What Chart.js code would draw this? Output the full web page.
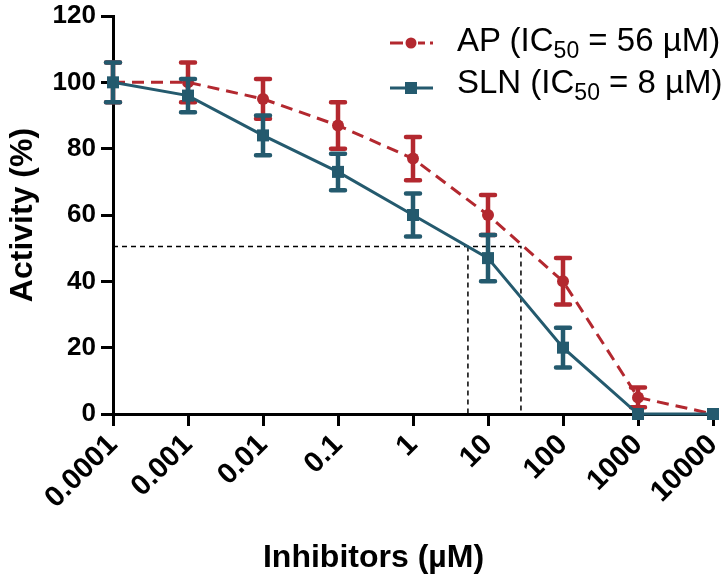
<!DOCTYPE html>
<html>
<head>
<meta charset="utf-8">
<script src="https://cdn.jsdelivr.net/npm/chart.js@4.4.1/dist/chart.umd.min.js"></script>
<style>
  html, body { margin: 0; padding: 0; background: #fff; }
  #wrap { position: relative; width: 726px; height: 582px; }
  #chart { position: absolute; left: 0; top: 0; }
  #overlay { position: absolute; left: 0; top: 0; pointer-events: none; }
  #overlay text { font-family: 'Liberation Sans', Arial, sans-serif; fill: #000; }
</style>
</head>
<body>
<div id="wrap">
  <canvas id="chart" width="726" height="582"></canvas>
  <svg id="overlay" width="726" height="582">
    <!-- legend -->
    <line x1="390" y1="43" x2="403" y2="43" stroke="#b3282f" stroke-width="3"/>
    <line x1="418" y1="43" x2="425" y2="43" stroke="#b3282f" stroke-width="3"/>
    <line x1="430" y1="43" x2="433" y2="43" stroke="#b3282f" stroke-width="3"/>
    <circle cx="411" cy="43" r="5.5" fill="#b3282f"/>
    <text x="457" y="51" font-size="33">AP (IC<tspan font-size="23" dy="7">50</tspan><tspan dy="-7"> = 56 µM)</tspan></text>
    <line x1="390" y1="88" x2="433" y2="88" stroke="#245a6e" stroke-width="3"/>
    <rect x="405" y="82" width="12" height="12" fill="#245a6e"/>
    <text x="457" y="93" font-size="33">SLN (IC<tspan font-size="23" dy="7">50</tspan><tspan dy="-7"> = 8 µM)</tspan></text>
    <!-- x axis title -->
    <text x="373.5" y="567" font-size="32" font-weight="bold" text-anchor="middle">Inhibitors (µM)</text>
  </svg>
</div>
<script>
// concentrations (µM) and their tick labels
const conc = [0.0001, 0.001, 0.01, 0.1, 1, 10, 100, 1000, 10000];
const tickLabels = ["0.0001", "0.001", "0.01", "0.1", "1", "10", "100", "1000", "10000"];

// activity (%) and SEM
const apActivity = [100, 100, 95, 87, 77, 60, 40, 5, 0];
const apError = [6, 6, 6, 7, 6.5, 6, 7, 3, 0];
const slnActivity = [100, 96, 84, 73, 60, 47, 20, 0, 0];
const slnError = [6, 5, 6, 5.5, 6.5, 7, 6, 0, 0];

// IC50 guide lines
const halfLevel = 50.5;
const slnIc50 = 5.4;
const apIc50 = 27.5;

const AP_COLOR = "#b3282f";
const SLN_COLOR = "#245a6e";

const toPoints = (ys) => conc.map((c, i) => ({ x: c, y: ys[i] }));

// draw error bars after each dataset, using the chart scales
const errorBars = {
  id: "errorBars",
  afterDatasetDraw: (chart, args) => {
    const ds = chart.data.datasets[args.index];
    if (!ds.errors) return;
    const ctx = chart.ctx;
    const xs = chart.scales.x;
    const ys = chart.scales.y;
    ctx.save();
    ctx.strokeStyle = ds.borderColor;
    ctx.lineWidth = 4.5;
    ctx.lineCap = "round";
    ds.data.forEach((p, i) => {
      const e = ds.errors[i];
      if (!e) return;
      const px = xs.getPixelForValue(p.x);
      const top = ys.getPixelForValue(p.y + e);
      const bot = ys.getPixelForValue(p.y - e);
      ctx.beginPath();
      ctx.moveTo(px, top);
      ctx.lineTo(px, bot);
      ctx.moveTo(px - 7, top);
      ctx.lineTo(px + 7, top);
      ctx.moveTo(px - 7, bot);
      ctx.lineTo(px + 7, bot);
      ctx.stroke();
    });
    ctx.restore();
  },
};

Chart.defaults.font.family = "'Liberation Sans', Arial, sans-serif";
Chart.defaults.color = "#000";

const config = {
  type: "line",
  data: {
    datasets: [
      {
        label: "SLN",
        data: toPoints(slnActivity),
        errors: slnError,
        borderColor: SLN_COLOR,
        backgroundColor: SLN_COLOR,
        borderWidth: 3,
        pointStyle: "rect",
        pointRadius: 8.5,
        pointBorderWidth: 0,
        pointBackgroundColor: SLN_COLOR,
        clip: false,
      },
      {
        label: "AP",
        data: toPoints(apActivity),
        errors: apError,
        borderColor: AP_COLOR,
        backgroundColor: AP_COLOR,
        borderWidth: 3,
        borderDash: [12, 7],
        pointStyle: "circle",
        pointRadius: 6,
        pointBorderWidth: 0,
        pointBackgroundColor: AP_COLOR,
        clip: false,
      },
      {
        label: "AP IC50",
        data: [
          { x: conc[0], y: halfLevel },
          { x: apIc50, y: halfLevel },
          { x: apIc50, y: 0 },
        ],
        borderColor: "#000",
        borderWidth: 1.5,
        borderDash: [5, 4],
        pointRadius: 0,
        clip: false,
      },
      {
        label: "SLN IC50",
        data: [
          { x: slnIc50, y: halfLevel },
          { x: slnIc50, y: 0 },
        ],
        borderColor: "#000",
        borderWidth: 1.5,
        borderDash: [5, 4],
        pointRadius: 0,
        clip: false,
      },
    ],
  },
  options: {
    responsive: false,
    animation: false,
    events: [],
    layout: { padding: { top: 16, right: 13, left: 0, bottom: 0 } },
    plugins: {
      legend: { display: false },
      tooltip: { enabled: false },
    },
    scales: {
      x: {
        type: "logarithmic",
        min: conc[0],
        max: conc[conc.length - 1],
        afterBuildTicks: (scale) => {
          scale.ticks = conc.map((v) => ({ value: v }));
        },
        afterFit: (scale) => {
          scale.height = 168;
          scale.paddingLeft = 0;
          scale.paddingRight = 0;
        },
        ticks: {
          autoSkip: false,
          maxRotation: 45,
          minRotation: 45,
          padding: 2,
          font: { size: 29, weight: "bold" },
          callback: (val, i) => tickLabels[i],
        },
        grid: {
          drawOnChartArea: false,
          drawTicks: true,
          tickLength: 12,
          tickWidth: 3,
          tickColor: "#000",
        },
        border: { display: true, color: "#000", width: 3 },
      },
      y: {
        min: 0,
        max: 120,
        afterFit: (scale) => {
          scale.width = 113;
          scale.paddingTop = 0;
          scale.paddingBottom = 0;
        },
        ticks: {
          stepSize: 20,
          padding: 5,
          font: { size: 26, weight: "bold" },
        },
        grid: {
          drawOnChartArea: false,
          drawTicks: true,
          tickLength: 12,
          tickWidth: 3,
          tickColor: "#000",
        },
        border: { display: true, color: "#000", width: 3 },
        title: {
          display: true,
          text: "Activity (%)",
          font: { size: 32, weight: "bold" },
          padding: { top: 4, bottom: 0 },
        },
      },
    },
  },
  plugins: [errorBars],
};

const ctx = document.getElementById("chart").getContext("2d");
new Chart(ctx, config);
</script>
</body>
</html>
